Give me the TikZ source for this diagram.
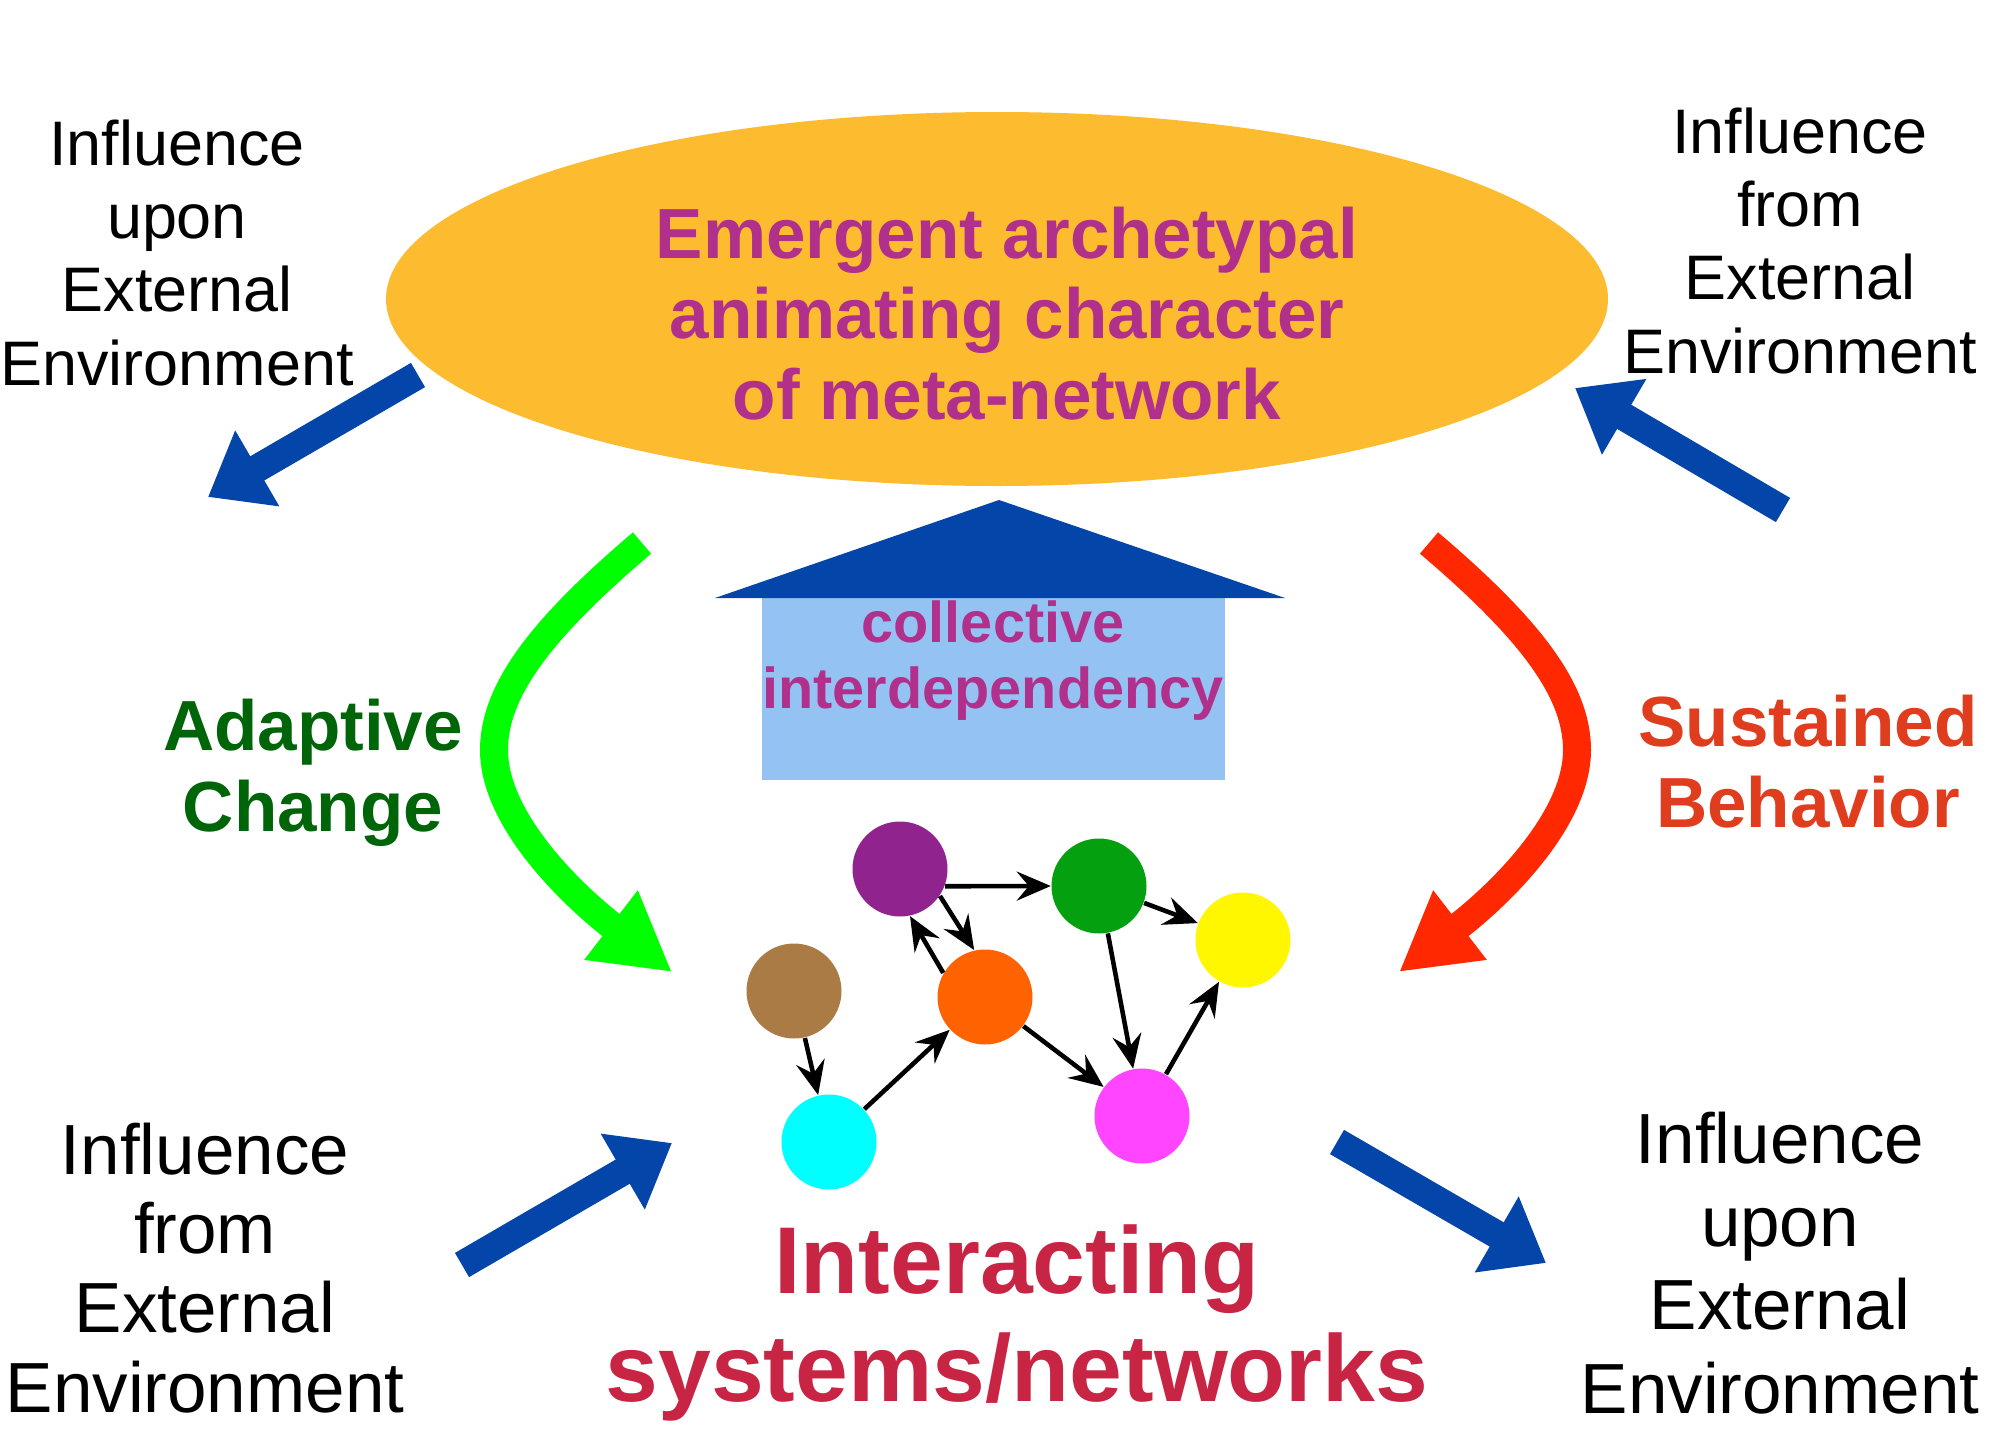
\documentclass[tikz,border=0pt]{standalone}
\usepackage{fontspec}
\setmainfont{Liberation Sans}
\usepackage{tikz}
\usetikzlibrary{arrows.meta}
\usetikzlibrary{calc}

\definecolor{emergfill}{RGB}{253,188,48}
\definecolor{metapurple}{RGB}{176,48,140}
\definecolor{arrowblue}{RGB}{3,69,169}
\definecolor{interblue}{RGB}{148,195,243}
\definecolor{adaptgreen}{RGB}{0,100,8}
\definecolor{sustainred}{RGB}{224,60,30}
\definecolor{interred}{RGB}{200,36,68}
\definecolor{curvegreen}{RGB}{0,255,0}
\definecolor{curvered}{RGB}{255,40,0}
\definecolor{npurple}{RGB}{145,35,143}
\definecolor{ngreen}{RGB}{5,160,15}
\definecolor{nyellow}{RGB}{255,247,0}
\definecolor{nbrown}{RGB}{170,123,68}
\definecolor{norange}{RGB}{255,98,0}
\definecolor{ncyan}{RGB}{0,255,255}
\definecolor{nmagenta}{RGB}{255,69,255}

\begin{document}
\begin{tikzpicture}[
	netnode/.style={circle,minimum size=0.95cm,inner sep=0pt},
	netedge/.style={line width=1.3pt,-{Stealth[length=0.34cm,width=0.29cm,inset=0.12cm]}},
	envarrow/.style={draw=arrowblue,line width=0.28cm,-{Triangle[length=0.57cm,width=0.84cm]}},
	bigcurve/.style={line width=0.28cm,-{Triangle[length=0.77cm,width=0.82cm]}},
	envsmall/.style={align=center,anchor=base,font=\fontsize{17.9pt}{20.8pt}\selectfont},
	envlarge/.style={align=center,anchor=base,font=\fontsize{20.2pt}{22.9pt}\selectfont},
	boldtext/.style={align=center,anchor=base,font=\bfseries\fontsize{20.2pt}{22.8pt}\selectfont}]
			\useasboundingbox (0,0) rectangle (20,-14.29);
			%emergent character on top
			\coordinate (ell) at (9.97,-2.99);
			\fill[emergfill] (ell) ellipse (6.11 and 1.87);
			\node[boldtext,text=metapurple] (emergent) at (10.07,-4.19) {Emergent archetypal\\animating character\\of meta-network};
			%collective interdependency arrow
			\fill[interblue] (7.62,-5.98) rectangle (12.25,-7.80);
			\fill[arrowblue] (7.15,-5.98)--(9.99,-5.00)--(12.85,-5.98)--cycle;
			\node[align=center,anchor=base,text=metapurple,font=\bfseries\fontsize{16.4pt}{18.5pt}\selectfont] (collective) at (9.93,-7.08) {collective\\interdependency};
			%adaptive change and sustained behavior
			\coordinate (ad_start) at (6.42,-5.43);
			\coordinate (ad_end) at (6.72,-9.72);
			\coordinate (su_start) at (14.29,-5.43);
			\coordinate (su_end) at (13.99,-9.72);
			\draw[bigcurve,curvegreen] (ad_start) .. controls (5.42,-6.28) and (4.94,-6.90) .. (4.94,-7.50) .. controls (4.94,-8.20) and (5.72,-8.95) .. (ad_end);
			\draw[bigcurve,curvered] (su_start) .. controls (15.29,-6.28) and (15.77,-6.90) .. (15.77,-7.50) .. controls (15.77,-8.20) and (14.99,-8.95) .. (su_end);
			\node[boldtext,text=adaptgreen,font=\bfseries\fontsize{20.2pt}{23pt}\selectfont] (adaptive) at (3.13,-8.31) {Adaptive\\Change};
			\node[boldtext,text=sustainred] (sustained) at (18.08,-8.27) {Sustained\\Behavior};
			%interacting systems
			\node[netnode,fill=npurple] (purple) at (9.00,-8.69) {};
			\node[netnode,fill=ngreen] (green) at (10.99,-8.86) {};
			\node[netnode,fill=nyellow] (yellow) at (12.43,-9.40) {};
			\node[netnode,fill=nbrown] (brown) at (7.94,-9.91) {};
			\node[netnode,fill=norange] (orange) at (9.85,-9.97) {};
			\node[netnode,fill=ncyan] (cyan) at (8.29,-11.42) {};
			\node[netnode,fill=nmagenta] (magenta) at (11.42,-11.16) {};
			\draw[netedge] (purple.-21)--(green.west);
			\draw[netedge] (purple.-34)--(orange.103);
			\draw[netedge] (orange.150)--(purple.-78);
			\draw[netedge] (green)--(yellow);
			\draw[netedge] (green)--(magenta);
			\draw[netedge] (brown)--(cyan);
			\draw[netedge] (cyan)--(orange);
			\draw[netedge] (orange)--(magenta);
			\draw[netedge] (magenta)--(yellow);
			\node[align=center,anchor=base,text=interred,font=\bfseries\fontsize{27pt}{30.7pt}\selectfont] (interacting) at (10.17,-14.01) {Interacting\\systems/networks};
			%external environment
			\coordinate (ul_tail) at (4.18,-3.75);
			\coordinate (ul_tip) at (2.08,-4.97);
			\coordinate (ur_tail) at (17.83,-5.10);
			\coordinate (ur_tip) at (15.75,-3.88);
			\coordinate (ll_tail) at (4.62,-12.65);
			\coordinate (ll_tip) at (6.72,-11.43);
			\coordinate (lr_tail) at (13.37,-11.42);
			\coordinate (lr_tip) at (15.46,-12.63);
			\draw[envarrow] (ul_tail)--(ul_tip);
			\draw[envarrow] (ur_tail)--(ur_tip);
			\draw[envarrow] (ll_tail)--(ll_tip);
			\draw[envarrow] (lr_tail)--(lr_tip);
			\node[envsmall] (upon_ul) at (1.77,-3.85) {Influence\\upon\\External\\Environment};
			\node[envsmall] (from_ur) at (18.00,-3.73) {Influence\\from\\External\\Environment};
			\node[envlarge,font=\fontsize{20.2pt}{22.5pt}\selectfont] (from_ll) at (2.05,-14.12) {Influence\\from\\External\\Environment};
			\node[envlarge,font=\fontsize{20.2pt}{23.7pt}\selectfont] (upon_lr) at (17.80,-14.13) {Influence\\upon\\External\\Environment};
		\end{tikzpicture}
\end{document}
